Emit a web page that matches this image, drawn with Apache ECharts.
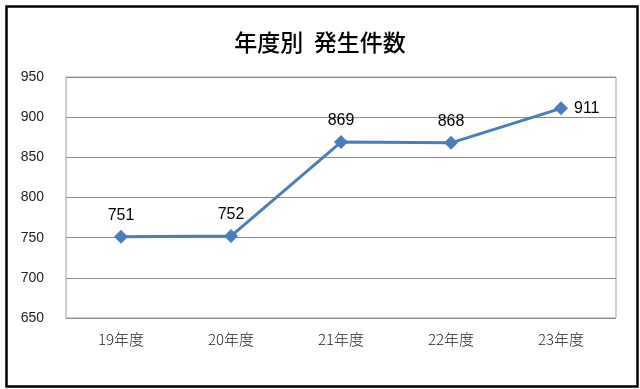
<!DOCTYPE html>
<html><head><meta charset="utf-8">
<script src="https://cdn.jsdelivr.net/npm/echarts@6/dist/echarts.min.js"></script>
<style>html,body{margin:0;padding:0;background:#fff}#c{width:640px;height:389px}</style>
</head><body><div id="c"></div>
<script>
const categories = ['19年度','20年度','21年度','22年度','23年度'];
const values = [751, 752, 869, 868, 911];
const labelPositions = ['top','top','top','top','right'];
const yMin = 650, yMax = 950, yStep = 50;

const chart = echarts.init(document.getElementById('c'));
chart.setOption({
  animation: false,
  backgroundColor: '#fff',
  title: {
    text: '年度別  発生件数', left: 'center', top: 26,
    textStyle: {fontFamily: 'Noto Sans CJK JP', fontSize: 23, fontWeight: 500, color: '#000'}
  },
  graphic: [{
    type: 'rect', left: 4, top: 4, shape: {width: 631, height: 380},
    style: {fill: 'none', stroke: '#000', lineWidth: 2.5}, silent: true, z: 100
  }],
  grid: {left: 66, right: 24, top: 77, bottom: 71, show: true, borderColor: '#a0a0a0', borderWidth: 1},
  xAxis: {
    type: 'category', data: categories, boundaryGap: true,
    axisLine: {show: false}, axisTick: {show: false},
    axisLabel: {color: '#222', fontSize: 15, margin: 14, fontFamily: 'Noto Sans CJK JP', fontWeight: 300}
  },
  yAxis: {
    type: 'value', min: yMin, max: yMax, interval: yStep,
    axisLine: {show: false}, axisTick: {show: false},
    axisLabel: {color: '#222', fontSize: 14, margin: 22, fontFamily: 'Liberation Sans'},
    splitLine: {lineStyle: {color: '#8c8c8c', width: 1}}
  },
  series: [{
    type: 'line', data: values.map((v, i) => ({value: v, label: {position: labelPositions[i]}})),
    symbol: 'diamond', symbolSize: 14,
    lineStyle: {color: '#4a7ebb', width: 3},
    itemStyle: {color: '#4a7ebb'},
    label: {show: true, color: '#000', fontSize: 16, fontFamily: 'Liberation Sans', distance: 6}
  }]
});
</script></body></html>
